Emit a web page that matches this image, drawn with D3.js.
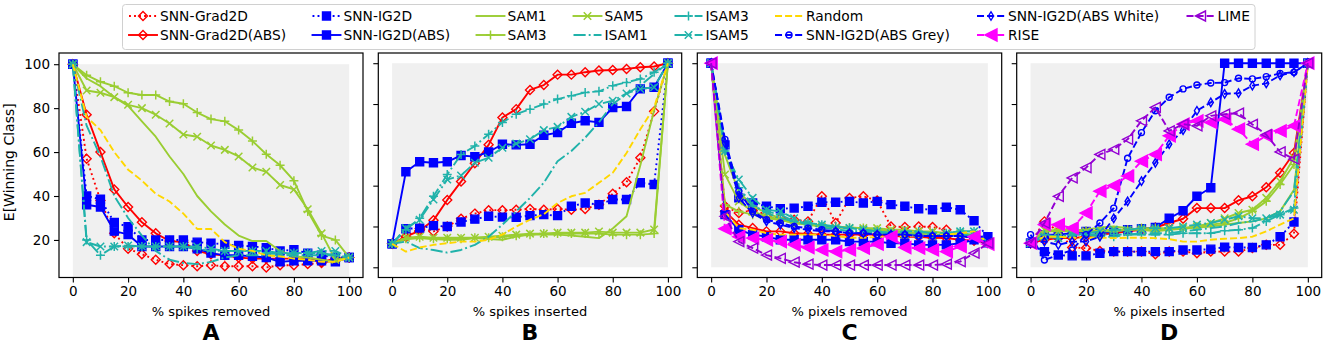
<!DOCTYPE html>
<html><head><meta charset="utf-8">
<script src="https://cdn.jsdelivr.net/npm/d3@7"></script>
<style>body{margin:0;background:#fff;} text{font-family:"DejaVu Sans",sans-serif;fill:#000;}</style>
</head><body><svg id="c" width="1325" height="345"></svg>
<script>
// ---------- data ----------
const xs = [0,5,10,15,20,25,30,35,40,45,50,55,60,65,70,75,80,85,90,95,100];
const xTicks = [0,20,40,60,80,100];
const yTicks = [0,20,40,60,80,100];
const panelLetters = ["A","B","C","D"];
const xLabels = ["% spikes removed","% spikes inserted","% pixels removed","% pixels inserted"];
const yLabel = "E[Winning Class]";
const seriesNames = ["SNN-Grad2D","SNN-Grad2D(ABS)","SNN-IG2D","SNN-IG2D(ABS)","SAM1","SAM3","SAM5","ISAM1","ISAM3","ISAM5","Random","SNN-IG2D(ABS Grey)","SNN-IG2D(ABS White)","RISE","LIME"];

// Panel A: spikes removed
const A_grad    = [100,57,38,23,16,13.5,11,9,8.5,8,8.5,8,8,8,7.5,8.5,8.5,9,9.5,11,12];
const A_gradAbs = [100,77,60,43,35,28,23,19.5,19,15,13.5,13,12,11.5,11.5,11.5,11.5,11.5,10,11.5,12];
const A_ig      = [100,40,38.5,28,26,20,20,20,20,19,18.5,18,17.5,17,16.5,15,15.5,14,13,12,12];
const A_igAbs   = [100,36,35,24,22.5,17,17,17,17,16,14,13,13,12.5,12,10,10.5,10.5,10.5,10,12];
const A_sam1    = [100,93.5,90,85,81,74,67,58,50,40,33,27,22,19.5,19.5,15,12.5,12,11,10,12];
const A_sam3    = [100,95,92,90,87,86,86,83,82,78,75,74,70,65,59,54,47,33,22,20,12];
const A_sam5    = [100,88,87,85,81.5,80,77,73,68,67,63,61,58,53,51,45,43,34,23,11,12];
const A_isam1   = [100,72,58,40,30,22,15,11,9.5,9,10,12,13,13,13,13,13,13,13,13,12];
const A_isam3   = [100,20,13,17,17,17,17,17,17,16,15,15,15,15,14,14,14,14,14,13,12];
const A_isam5   = [100,19,17,17,17.5,17,17,17,17,17,16,15,15,15,15,14,14,14,15,15,12];
const A_random  = [100,76,70,60,52,47,41,37.5,32,25,25,19,16,15,13,12.5,11.5,11,10,10,12];

// Panel B: spikes inserted
const B_grad    = [11.5,15,19,17.6,20,23.8,26.3,28,28,28.2,28.6,28.2,28.6,28.2,28.6,30.7,36,41.7,53.7,76.4,100];
const B_gradAbs = [11.5,15,18,23,33,42,51,60,73.4,77.5,86.9,89.3,94.4,94.4,95.6,96.4,96.7,97.2,98,98.4,100];
const B_ig      = [11.5,18.9,19.2,20.4,20,22.2,23.6,25,24.6,24.5,25.3,25.8,25.3,29.9,31.5,30.7,33.2,33.2,41.4,40.6,100];
const B_igAbs   = [11.5,46.8,51.7,51.2,51.7,54.8,54.2,56.5,60.3,60,60.3,64.7,66,70.6,71.8,71,78.3,78.8,87.4,88.2,100];
const B_sam1    = [11.5,13.8,14.3,13.8,13.5,13.5,14.3,13.8,13.5,15,16,16,16,15.5,15,14.3,19,25,50,77,100];
const B_sam3    = [11.5,14,14.5,14,14,14,14.5,14.5,15,15.5,16,16.5,16.5,16.5,16.5,16.5,16,16,16,16.5,100];
const B_sam5    = [11.5,14.5,15,14.5,14.5,14.5,14.5,15,15.5,16,16.5,16.5,17,17,17,17.5,17,17,17,18.5,100];
const B_isam1   = [11.5,12.6,9.4,8.5,7.2,8.5,11,15,20.9,27.4,34,41.4,52,57,63.5,71,80,85,89,94.7,100];
const B_isam3   = [11.5,18.4,24,34.8,45.5,55.3,59.4,65.2,71,75,77.5,80,82.4,84,85.7,86.2,89,90.6,92.3,95.6,100];
const B_isam5   = [11.5,19.2,23.3,33.2,43,45,51.2,53.7,58.6,60.6,62.7,67.2,68.8,73.7,76.2,80,81.6,85.2,87.4,88.2,100];
const B_random  = [11.5,7.7,9.7,11,11.8,12.6,12.6,13.5,16,20,23.3,26,31.5,34.8,36.5,41.4,46.3,56,67.6,78.3,100];

// Panel C: pixels removed
const C_grad    = [100,30,26.6,28,25.8,24,23.3,22.5,34.8,21.7,34,34.8,32.7,20,19.7,20,19.7,18.4,16,14.3,12];
const C_gradAbs = [100,27.4,20.9,19.2,17.6,17.6,16.7,16.4,16,16,16,16,16,15.6,15,15,14.5,14.3,13.5,13,12];
const C_ig      = [100,60,34,31.5,29.9,28.7,29,29.9,31.9,31.9,32.3,31.5,32.3,30.7,29.9,28.7,28.2,29.4,28.2,22.8,15];
const C_igAbs   = [100,25.8,18.4,16,15,13.5,13.5,13.5,13.5,13.5,12.6,12.6,12.6,11.8,11.8,11,11,11,11.8,13.5,12];
const C_sam1    = [100,55,37,30,26.6,24,22.5,21,20.5,20,19.2,19.2,18.4,17.6,17.6,16.7,16,16,15.3,14.5,12];
const C_sam3    = [100,30.7,27.4,25.8,24,23.3,21.7,20.9,20,20,19.5,19.2,18.4,17.6,16.7,16.7,16,16,16,15.3,12];
const C_sam5    = [100,45.5,32.3,27.4,25,23.3,21.7,20.9,20,19.5,19.2,19.2,19.2,18.4,18.4,17.6,17.6,16.7,16.7,16,12];
const C_isam1   = [100,60,39,30.7,26.6,24,22.5,20.9,19.5,18.4,17.9,17.6,16.7,16.3,16,16,16,16,16,15.6,12];
const C_isam3   = [100,57,39,30,27.4,25.8,22.5,21.7,20.9,20,19.2,18.4,17.6,16.7,17.6,17.6,16.7,16.7,17.6,17.6,12];
const C_isam5   = [100,57,43,34,28.2,27.4,24,21.7,20.9,19.2,19.2,18.4,17.6,16.7,16,16,15.3,16.7,17.6,17.6,12];
const C_random  = [100,27.4,19.2,18.4,16.7,16,16,16,16,15.3,14.5,14.5,14.8,15.3,15.3,15.3,16,16,16.7,17.6,12];
const C_igGrey  = [100,62.7,37.3,27.4,23.3,21.7,20,19.2,18.4,17.6,16.7,16.7,16,16,16,15.3,15.3,15.3,15.3,14.5,15.4];
const C_igWhite = [100,61,34,26.6,22.5,20.9,19.2,18.4,17.6,17.6,16.7,16.7,16,16,16,15.3,15.3,15.3,15.3,14.5,12];
const C_rise    = [100,18.9,15,14.3,13.5,12.6,11,9.7,8.5,7.7,8.5,9.4,11.3,15,9.7,9.4,8.5,7.7,10.2,15,11.3];
const C_lime    = [100,25,12.6,9.4,6,4.4,2.5,1.5,1.1,1.1,1.1,1.1,1.1,1.1,1.1,1.1,1.1,1.5,2.8,6.9,11.8];

// Panel D: pixels inserted
const D_grad    = [11.8,22.5,17.6,9.7,9.4,8,7.7,7.7,7.7,6.4,7.7,7.7,6.9,7.7,7.7,7.7,9.4,11,11,16.4,100];
const D_gradAbs = [11.8,13.5,14.3,14.3,15,16,16.7,17.6,18.4,19.5,21.7,23.8,29,29,29,32.8,34.8,39.2,46.3,56,100];
const D_ig      = [11.8,7.7,6,5.6,5.6,6.9,7.7,7.7,7.7,7.7,7.7,8.5,8.5,8.9,9.9,9.7,9.7,11,15,22.2,100];
const D_igAbs   = [11.8,16,16,16.7,17.6,16.7,17.6,18.4,18.9,19.5,24,27.7,34.8,39,100,100,100,100,100,100,100];
const D_sam1    = [11.8,17.6,17.6,18,18.4,19.5,20,19.2,18.4,17.6,18.4,18.9,19.5,20,20.9,21.7,22.5,24,27.4,38,100];
const D_sam3    = [11.8,17.6,18.4,18.4,17.9,17.6,17.6,18.4,19.2,19.2,19.2,19.2,20,20.9,21.7,24,27.4,32.3,40.6,50.4,100];
const D_sam5    = [11.8,18.4,17.6,17.6,17.6,18,18.4,18.4,18.4,18.4,18.9,19.2,20,21.7,24,26.6,28.2,34,42.2,53.7,100];
const D_isam1   = [11.8,15,15,16,16.3,16,16,16,16.7,16.7,16.7,17.6,18.4,19.2,20,21.7,22.5,24,27.4,37.3,100];
const D_isam3   = [11.8,16,15,16,16,15,15,16,16,16,16,16.7,16.7,16.7,17.9,18.4,19.2,22.5,25.8,29,100];
const D_isam5   = [11.8,15,14.3,16,16.7,17.6,18.4,18.4,19.2,19.2,19.2,20,20.9,21.7,23.3,25,24,24,25.8,28.2,100];
const D_random  = [11.8,15,15,14.5,14.5,14.5,14.3,14.5,14.5,14.3,13.8,12.6,12.6,13.5,14,14.3,15,17.6,20.9,24,100];
const D_igGrey  = [16,3.6,6,8.5,16,21.7,29,53.4,66,76.7,83.3,87.4,89.3,90.3,90.5,92.6,92.3,93.4,95,95.6,100];
const D_igWhite = [11.8,12.6,11,12.6,12.6,15,24,32.3,42.2,51.2,60.3,67.2,76.7,80.8,85,85.3,89,90.1,94,95.6,100];
const D_rise    = [11.8,20.9,20.9,19.2,26.6,37.3,40,44.7,52,55.3,64.4,70.1,71.8,71,72.6,67.7,60.3,64.4,66.8,69.3,100];
const D_lime    = [11.8,21.7,34.8,43.8,48.8,55.3,57.8,62.7,71.8,78.3,66.8,70.1,69.3,74.2,75,75.5,70,65,56.5,53,100];

// ---------- styles ----------
const LW = 1.9;
const dash = {solid:null, dotted:[LW*1, LW*1.65], dashed:[LW*3.7, LW*1.6], dashdot:[LW*6.4, LW*1.6, LW*1, LW*1.6]};
const styles = {
  "SNN-Grad2D":          {c:"#ff0000", ls:"dotted",  m:"D", fill:false, s:9},
  "SNN-Grad2D(ABS)":     {c:"#ff0000", ls:"solid",   m:"D", fill:false, s:9},
  "SNN-IG2D":            {c:"#0000ff", ls:"dotted",  m:"s", fill:true,  s:8},
  "SNN-IG2D(ABS)":       {c:"#0000ff", ls:"solid",   m:"s", fill:true,  s:8},
  "SAM1":                {c:"#9acd32", ls:"solid",   m:null},
  "SAM3":                {c:"#9acd32", ls:"solid",   m:"+", s:9},
  "SAM5":                {c:"#9acd32", ls:"solid",   m:"x", s:7.5},
  "ISAM1":               {c:"#20b2aa", ls:"dashdot", m:null},
  "ISAM3":               {c:"#20b2aa", ls:"dashdot", m:"+", s:9},
  "ISAM5":               {c:"#20b2aa", ls:"dashdot", m:"x", s:7.5},
  "Random":              {c:"#ffd700", ls:"dashed",  m:null},
  "SNN-IG2D(ABS Grey)":  {c:"#0000ff", ls:"dashed",  m:"o", fill:false, s:6},
  "SNN-IG2D(ABS White)": {c:"#0000ff", ls:"dashed",  m:"d", fill:false, s:8.5},
  "RISE":                {c:"#ff00ff", ls:"dashed",  m:"<", fill:true,  s:12},
  "LIME":                {c:"#9400d3", ls:"dashed",  m:"<", fill:false, s:10}
};
function markerPath(m, s){
  const h = s/2;
  switch(m){
    case "D": return `M0,${-h}L${h},0L0,${h}L${-h},0Z`;
    case "d": return `M0,${-h}L${h*0.6},0L0,${h}L${-h*0.6},0Z`;
    case "s": return `M${-h},${-h}H${h}V${h}H${-h}Z`;
    case "+": return `M${-h},0H${h}M0,${-h}V${h}`;
    case "x": return `M${-h},${-h}L${h},${h}M${-h},${h}L${h},${-h}`;
    case "o": return d3.symbol(d3.symbolCircle, Math.PI*h*h)();
    case "<": return `M${-h},0L${h},${-h}L${h},${h}Z`;
  }
  return "";
}

// ---------- layout ----------
const svg = d3.select("#c");
const yTop = 53, yBot = 277.5;
const panels = [
  {left:59,    right:363,   ydom:[2.9,105.1], series:[["SNN-Grad2D",A_grad],["SNN-Grad2D(ABS)",A_gradAbs],["SNN-IG2D",A_ig],["SNN-IG2D(ABS)",A_igAbs],["SAM1",A_sam1],["SAM3",A_sam3],["SAM5",A_sam5],["ISAM1",A_isam1],["ISAM3",A_isam3],["ISAM5",A_isam5],["Random",A_random]]},
  {left:378.3, right:681.7, ydom:[-5,105], series:[["SNN-Grad2D",B_grad],["SNN-Grad2D(ABS)",B_gradAbs],["SNN-IG2D",B_ig],["SNN-IG2D(ABS)",B_igAbs],["SAM1",B_sam1],["SAM3",B_sam3],["SAM5",B_sam5],["ISAM1",B_isam1],["ISAM3",B_isam3],["ISAM5",B_isam5],["Random",B_random]]},
  {left:697.3, right:1001.7,ydom:[-5,105], series:[["SNN-Grad2D",C_grad],["SNN-Grad2D(ABS)",C_gradAbs],["SNN-IG2D",C_ig],["SNN-IG2D(ABS)",C_igAbs],["SAM1",C_sam1],["SAM3",C_sam3],["SAM5",C_sam5],["ISAM1",C_isam1],["ISAM3",C_isam3],["ISAM5",C_isam5],["Random",C_random],["SNN-IG2D(ABS Grey)",C_igGrey],["SNN-IG2D(ABS White)",C_igWhite],["RISE",C_rise],["LIME",C_lime]]},
  {left:1016.7,right:1321.7,ydom:[-5,105], series:[["SNN-Grad2D",D_grad],["SNN-Grad2D(ABS)",D_gradAbs],["SNN-IG2D",D_ig],["SNN-IG2D(ABS)",D_igAbs],["SAM1",D_sam1],["SAM3",D_sam3],["SAM5",D_sam5],["ISAM1",D_isam1],["ISAM3",D_isam3],["ISAM5",D_isam5],["Random",D_random],["SNN-IG2D(ABS Grey)",D_igGrey],["SNN-IG2D(ABS White)",D_igWhite],["RISE",D_rise],["LIME",D_lime]]}
];

function drawLine(g, pts, st){
  const p = g.append("path").attr("d", d3.line()(pts)).attr("fill","none")
    .attr("stroke", st.c).attr("stroke-width", LW).attr("stroke-linejoin","round")
    .attr("stroke-linecap", st.ls==="solid" ? "square" : "butt");
  if (dash[st.ls]) p.attr("stroke-dasharray", dash[st.ls].join(","));
}
function drawMarker(g, x, y, st){
  if (!st.m) return;
  const lineOnly = (st.m==="+"||st.m==="x");
  g.append("path").attr("d", markerPath(st.m, st.s)).attr("transform",`translate(${x},${y})`)
    .attr("fill", lineOnly ? "none" : (st.fill ? st.c : "none"))
    .attr("stroke", st.c).attr("stroke-width", lineOnly ? 1.5 : 1.4);
}

panels.forEach((P, i) => {
  const x = d3.scaleLinear().domain([-5,105]).range([P.left, P.right]);
  const y = d3.scaleLinear().domain(P.ydom).range([yBot, yTop]);
  const g = svg.append("g");
  const cid = "clip"+i;
  g.append("clipPath").attr("id",cid).append("rect")
    .attr("x",P.left).attr("y",yTop).attr("width",P.right-P.left).attr("height",yBot-yTop);
  const plot = g.append("g").attr("clip-path",`url(#${cid})`);
  plot.append("rect").attr("x",x(0)).attr("y",y(100)).attr("width",x(100)-x(0)).attr("height",y(0)-y(100))
    .attr("fill","#f0f0f0");
  P.series.forEach(([name, vals]) => {
    const st = styles[name];
    const pts = xs.map((xv,k)=>[x(xv), y(vals[k])]);
    drawLine(plot, pts, st);
    pts.forEach(p => drawMarker(plot, p[0], p[1], st));
  });
  const xa = g.append("g").attr("transform",`translate(0,${yBot})`)
    .call(d3.axisBottom(x).tickValues(xTicks).tickSize(5).tickPadding(4).tickSizeOuter(0));
  const ya = g.append("g").attr("transform",`translate(${P.left},0)`)
    .call(d3.axisLeft(y).tickValues(yTicks.filter(t=>t>=P.ydom[0])).tickSize(5).tickPadding(4).tickSizeOuter(0)
      .tickFormat(i===0 ? d3.format("d") : ()=>""));
  [xa, ya].forEach(a => {
    a.select(".domain").remove();
    a.selectAll("line").attr("stroke","#000").attr("stroke-width",1.1);
    a.selectAll("text").attr("font-size",13.5).attr("font-family","DejaVu Sans").attr("fill","#000");
  });
  g.append("rect").attr("x",P.left).attr("y",yTop).attr("width",P.right-P.left).attr("height",yBot-yTop)
    .attr("fill","none").attr("stroke","#000").attr("stroke-width",1.2);
  const cx = (P.left+P.right)/2;
  g.append("text").attr("x",cx).attr("y",316).attr("text-anchor","middle").attr("font-size",13).text(xLabels[i]);
  g.append("text").attr("x",cx).attr("y",340).attr("text-anchor","middle").attr("font-size",22)
    .attr("font-weight","bold").text(panelLetters[i]);
});
svg.append("text").attr("transform",`translate(13.5,${(yTop+yBot)/2 - 3}) rotate(-90)`)
  .attr("text-anchor","middle").attr("font-size",14).text(yLabel);

// ---------- legend ----------
const legCols = [["SNN-Grad2D","SNN-Grad2D(ABS)"],["SNN-IG2D","SNN-IG2D(ABS)"],["SAM1","SAM3"],["SAM5","ISAM1"],["ISAM3","ISAM5"],["Random","SNN-IG2D(ABS Grey)"],["SNN-IG2D(ABS White)","RISE"],["LIME"]];
const legTextX = [160, 343.5, 507.5, 604.5, 705.5, 806, 1008, 1217.5];
const legRowY = [16, 35];
const lg = svg.append("g");
lg.append("rect").attr("x",122.5).attr("y",4.5).attr("width",1132.5).attr("height",45).attr("rx",3)
  .attr("fill","#fff").attr("stroke","#d0d0d0").attr("stroke-width",1);
legCols.forEach((col, ci) => {
  col.forEach((name, ri) => {
    const st = styles[name];
    const tx = legTextX[ci], yy = legRowY[ri];
    const hx0 = tx - 31, hx1 = tx - 3;
    drawLine(lg, [[hx0,yy],[hx1,yy]], st);
    drawMarker(lg, (hx0+hx1)/2, yy, st);
    lg.append("text").attr("x",tx).attr("y",yy).attr("dy","0.36em").attr("font-size",13.8).text(name);
  });
});
</script></body></html>
